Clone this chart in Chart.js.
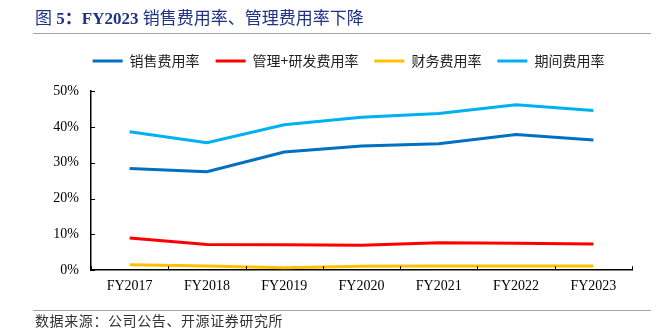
<!DOCTYPE html>
<html><head><meta charset="utf-8">
<script src="https://cdn.jsdelivr.net/npm/chart.js@4"></script>
<style>
html,body{margin:0;padding:0;background:#fff;width:663px;height:330px;overflow:hidden}
#wrap{position:relative;width:663px;height:330px}
#c{position:absolute;left:0;top:0}
.title{position:absolute;left:35px;top:6px;font-size:17px;line-height:22px;color:#1F3286;font-family:"Liberation Serif","Noto Sans CJK SC",serif;white-space:nowrap}
.title .cjk{font-family:"Noto Sans CJK SC",sans-serif;font-size:17px}
.title b{font-weight:bold}
.hr{position:absolute;left:33px;width:618px;height:0;border-top:1px solid #a6a6a6}
.src{position:absolute;left:35px;top:311px;font-size:14px;line-height:18px;color:#333;font-family:"Noto Sans CJK SC",sans-serif;white-space:nowrap;letter-spacing:0.6px}
</style>
</head><body>
<div id="wrap">
<canvas id="c" width="663" height="330"></canvas>
<div class="title"><span class="cjk">图</span> <b>5：FY2023</b> <span class="cjk">销售费用率、管理费用率下降</span></div>
<div class="hr" style="top:33px"></div>
<div class="hr" style="top:310px"></div>
<div class="src">数据来源：公司公告、开源证券研究所</div>
</div>
<script>
const categories = ['FY2017','FY2018','FY2019','FY2020','FY2021','FY2022','FY2023'];
const salesRate = [28.4, 27.5, 33.0, 34.7, 35.3, 37.9, 36.4];
const mgmtRdRate = [9.0, 7.2, 7.1, 7.0, 7.7, 7.5, 7.3];
const financeRate = [1.5, 1.2, 0.7, 1.1, 1.2, 1.2, 1.2];
const periodRate = [38.7, 35.6, 40.6, 42.7, 43.8, 46.2, 44.6];
const seriesNames = ['销售费用率','管理+研发费用率','财务费用率','期间费用率'];
const seriesColors = ['#0070C0','#FF0000','#FFC000','#00B0F0'];
const yTicks = [0,10,20,30,40,50];

const inTicks = {
  id:'inTicks',
  afterLayout(chart){
    const l = chart.legend;
    if (l) { l.left += 6; l.right += 6; }
  },
  afterDatasetsDraw(chart){
    const {ctx, scales:{x,y}, chartArea:a} = chart;
    ctx.save();
    ctx.strokeStyle='#000'; ctx.lineWidth=1;
    y.ticks.forEach((t,i)=>{
      const py = Math.round(y.getPixelForTick(i))+0.5;
      ctx.beginPath(); ctx.moveTo(a.left,py); ctx.lineTo(a.left+4,py); ctx.stroke();
    });
    const n = x.ticks.length;
    for(let i=0;i<=n;i++){
      const px = Math.round(x.getPixelForValue(i-0.5))+0.5;
      ctx.beginPath(); ctx.moveTo(px,a.bottom); ctx.lineTo(px,a.bottom-4); ctx.stroke();
    }
    ctx.restore();
  }
};

const allData = [salesRate, mgmtRdRate, financeRate, periodRate];
new Chart(document.getElementById('c'), {
  type:'line',
  data:{
    labels: categories,
    datasets: allData.map((d,i)=>({
      label: seriesNames[i], data: d,
      borderColor: seriesColors[i], backgroundColor: seriesColors[i],
      borderWidth: 3, pointRadius: 0, tension: 0, fill:false
    }))
  },
  options:{
    responsive:false, animation:false,
    layout:{padding:{left:53,right:31,top:38,bottom:27}},
    plugins:{
      tooltip:{enabled:false},
      title:{display:true, text:'', weight:500, font:{size:1}, padding:{top:0,bottom:12}},
      legend:{
        position:'top',
        labels:{
          boxWidth:30, boxHeight:3, padding:16, color:'#222',
          font:{family:'"Noto Sans CJK SC"', size:14},
          generateLabels(chart){
            return Chart.defaults.plugins.legend.labels.generateLabels(chart).map(l=>({...l,lineWidth:0}));
          }
        }
      }
    },
    scales:{
      x:{
        offset:true,
        grid:{display:false, drawTicks:false},
        border:{display:true, color:'#000', width:1.5},
        ticks:{font:{family:'"Liberation Serif"', size:14}, color:'#000', padding:8}
      },
      y:{
        min:0, max:50,
        afterBuildTicks(s){ s.ticks = yTicks.map(v=>({value:v})); },
        afterFit(s){ s.width = 38; },
        grid:{display:false, drawTicks:false},
        border:{display:true, color:'#000', width:1.5},
        ticks:{font:{family:'"Liberation Serif"', size:14}, color:'#000', padding:12, callback:v=>v+'%'}
      }
    }
  },
  plugins:[inTicks]
});
</script>
</body></html>
